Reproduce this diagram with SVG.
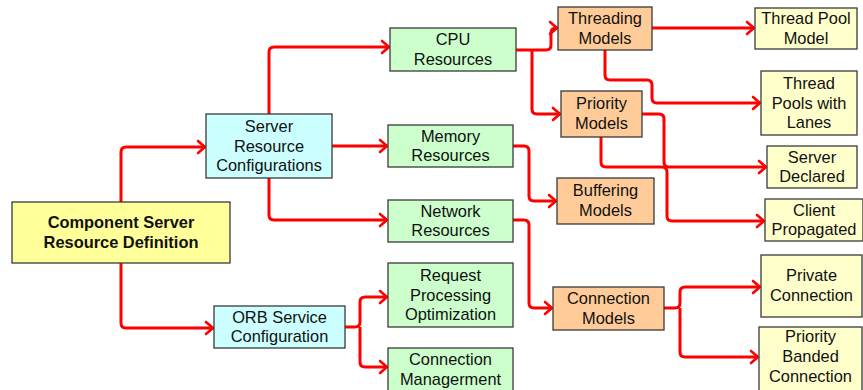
<svg xmlns="http://www.w3.org/2000/svg" width="863" height="390" viewBox="0 0 863 390">
  <style>
    .box { stroke: #3a3a3a; stroke-width: 1.3; }
    .root { fill: #FFFF99; }
    .cfg { fill: #CCFFFF; }
    .res { fill: #CCFFCC; }
    .mdl { fill: #FFCC99; }
    .leaf { fill: #FFFFCC; }
    text { font-family: "Liberation Sans", Arial, sans-serif; font-size: 16.4px; fill: #111; text-anchor: middle; }
    .bold { font-weight: bold; }
    .link { fill: none; stroke: #FF0000; stroke-width: 3; stroke-linejoin: round; marker-end: url(#chev); }
  </style>
  <defs>
    <marker id="chev" markerUnits="userSpaceOnUse" viewBox="-10 -8 12 16" markerWidth="12" markerHeight="16" refX="0" refY="0" orient="auto">
      <path d="M-7,-6 L0,0 L-7,6" fill="none" stroke="#FF0000" stroke-width="2.6" stroke-linecap="round" stroke-linejoin="round"/>
    </marker>
  </defs>
  <rect width="863" height="390" fill="#FFFFFF"/>

  <!-- connectors -->
  <g id="connectors">
    <path class="link" d="M121,202 V152 Q121,147 126,147 H205"/>
    <path class="link" d="M121,263 V323 Q121,328 126,328 H213"/>
    <path class="link" d="M269,114 V52 Q269,47 274,47 H389"/>
    <path class="link" d="M332,146 H387"/>
    <path class="link" d="M269,178 V215 Q269,220 274,220 H387"/>
    <path class="link" d="M516,50 H546 Q551,50 551,45 V33 Q551,28 556,28 H557"/>
    <path class="link" d="M532,50 V109 Q532,114 537,114 H560"/>
    <path class="link" d="M513,146 H524 Q529,146 529,151 V196 Q529,201 534,201 H556"/>
    <path class="link" d="M513,220 H524 Q529,220 529,225 V303 Q529,308 534,308 H552"/>
    <path class="link" d="M652,28 H754"/>
    <path class="link" d="M605,50 V75 Q605,80 610,80 H647 Q652,80 652,85 V98 Q652,103 657,103 H760"/>
    <path class="link" d="M642,114 H659 Q664,114 664,119 V162 Q664,167 669,167 H766"/>
    <path class="link" d="M601,137 V162 Q601,167 606,167 H662 Q667,167 667,172 V216 Q667,221 672,221 H764"/>
    <path class="link" d="M664,308 H675 Q680,308 680,303 V292 Q680,287 685,287 H760"/>
    <path class="link" d="M680,308 V352 Q680,357 685,357 H758"/>
    <path class="link" d="M345,327 H355 Q360,327 360,322 V302 Q360,297 365,297 H387"/>
    <path class="link" d="M360,327 V362 Q360,367 365,367 H387"/>
  </g>

  <!-- nodes -->
  <g id="component-server">
    <rect class="box root" x="12" y="202" width="218" height="61"/>
    <text class="bold" x="121" y="228">Component Server</text>
    <text class="bold" x="121" y="248">Resource Definition</text>
  </g>
  <g id="server-resource-configurations">
    <rect class="box cfg" x="206" y="114" width="126" height="64"/>
    <text x="269" y="132">Server</text>
    <text x="269" y="151.5">Resource</text>
    <text x="269" y="171">Configurations</text>
  </g>
  <g id="orb-service-configuration">
    <rect class="box cfg" x="214" y="306" width="131" height="42"/>
    <text x="279.5" y="323">ORB Service</text>
    <text x="279.5" y="342">Configuration</text>
  </g>
  <g id="cpu-resources">
    <rect class="box res" x="390" y="28" width="126" height="43"/>
    <text x="453" y="45">CPU</text>
    <text x="453" y="65">Resources</text>
  </g>
  <g id="memory-resources">
    <rect class="box res" x="388" y="125" width="125" height="42"/>
    <text x="450.5" y="141.5">Memory</text>
    <text x="450.5" y="161">Resources</text>
  </g>
  <g id="network-resources">
    <rect class="box res" x="388" y="200" width="125" height="42"/>
    <text x="450.5" y="216.5">Network</text>
    <text x="450.5" y="236">Resources</text>
  </g>
  <g id="request-processing">
    <rect class="box res" x="388" y="263" width="125" height="64"/>
    <text x="450.5" y="281">Request</text>
    <text x="450.5" y="300.5">Processing</text>
    <text x="450.5" y="320">Optimization</text>
  </g>
  <g id="connection-management">
    <rect class="box res" x="388" y="348" width="125" height="44"/>
    <text x="450.5" y="365">Connection</text>
    <text x="450.5" y="384.5">Managerment</text>
  </g>
  <g id="threading-models">
    <rect class="box mdl" x="558" y="7" width="94" height="43"/>
    <text x="605" y="24">Threading</text>
    <text x="605" y="43.5">Models</text>
  </g>
  <g id="priority-models">
    <rect class="box mdl" x="561" y="91" width="81" height="46"/>
    <text x="601.5" y="109">Priority</text>
    <text x="601.5" y="128.5">Models</text>
  </g>
  <g id="buffering-models">
    <rect class="box mdl" x="557" y="178" width="97" height="46"/>
    <text x="605.5" y="196">Buffering</text>
    <text x="605.5" y="215.5">Models</text>
  </g>
  <g id="connection-models">
    <rect class="box mdl" x="553" y="287" width="111" height="43"/>
    <text x="608.5" y="304">Connection</text>
    <text x="608.5" y="323.5">Models</text>
  </g>
  <g id="thread-pool-model">
    <rect class="box leaf" x="755" y="8" width="102" height="41"/>
    <text x="806" y="24">Thread Pool</text>
    <text x="806" y="43.5">Model</text>
  </g>
  <g id="thread-pools-with-lanes">
    <rect class="box leaf" x="761" y="71" width="96" height="64"/>
    <text x="809" y="89">Thread</text>
    <text x="809" y="108.5">Pools with</text>
    <text x="809" y="128">Lanes</text>
  </g>
  <g id="server-declared">
    <rect class="box leaf" x="767" y="146" width="90" height="42"/>
    <text x="812" y="162.5">Server</text>
    <text x="812" y="182">Declared</text>
  </g>
  <g id="client-propagated">
    <rect class="box leaf" x="765" y="199" width="98" height="42"/>
    <text x="814" y="215.5">Client</text>
    <text x="814" y="235">Propagated</text>
  </g>
  <g id="private-connection">
    <rect class="box leaf" x="761" y="255" width="101" height="62"/>
    <text x="811.5" y="281">Private</text>
    <text x="811.5" y="300.5">Connection</text>
  </g>
  <g id="priority-banded-connection">
    <rect class="box leaf" x="759" y="327" width="103" height="65"/>
    <text x="810.5" y="342">Priority</text>
    <text x="810.5" y="362">Banded</text>
    <text x="810.5" y="382">Connection</text>
  </g>
</svg>
